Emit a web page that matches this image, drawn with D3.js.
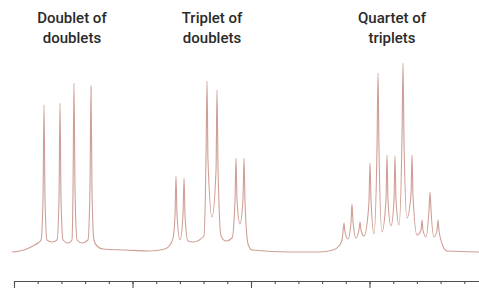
<!DOCTYPE html>
<html>
<head>
<meta charset="utf-8">
<script src="https://cdn.jsdelivr.net/npm/d3@7"></script>
<style>
  html, body { margin: 0; padding: 0; background: #fff; }
  svg { display: block; }
</style>
</head>
<body>
<svg id="chart" width="479" height="289"></svg>
<script>
// splitting patterns (shift in major-tick units, intensity arbitrary)
const traceShift = [
  -0.017, 0.084, 0.160, 0.203, 0.228,
  0.245, 0.253, 0.262, 0.278, 0.321, 0.363, 0.380, 0.388, 0.397, 0.414,
  0.456, 0.489, 0.498, 0.506, 0.515, 0.532, 0.574, 0.624, 0.641, 0.650, 0.658, 0.675,
  0.700, 0.751, 0.937, 1.148,
  1.274, 1.316, 1.342, 1.359, 1.367, 1.376, 1.401, 1.426, 1.435, 1.443, 1.468, 1.511,
  1.603, 1.620, 1.629, 1.637, 1.671, 1.705, 1.713, 1.722, 1.747, 1.789,
  1.840, 1.865, 1.873, 1.882, 1.907, 1.932, 1.941, 1.949, 1.975, 2.008, 2.329, 2.582,
  2.692, 2.743, 2.768, 2.776, 2.785, 2.793, 2.819, 2.844, 2.852, 2.861, 2.886,
  2.911, 2.920, 2.928, 2.954, 2.987, 2.996, 3.004, 3.013, 3.038,
  3.063, 3.072, 3.080, 3.105, 3.139, 3.148, 3.156, 3.181, 3.207, 3.215, 3.224, 3.249,
  3.274, 3.283, 3.291, 3.316, 3.350, 3.359, 3.367, 3.401,
  3.435, 3.443, 3.451, 3.477, 3.502, 3.511, 3.519, 3.544, 3.570, 3.578, 3.586,
  3.620, 3.654, 3.924
]
const traceIntensity = [
  0, 2, 6, 9, 12,
  52, 147, 52, 12, 10, 12, 52, 149, 52, 12,
  9, 12, 62, 169, 62, 12, 9, 12, 62, 166, 62, 12,
  6, 3, 2, 1,
  3, 7, 14, 37, 76, 37, 12, 37, 74, 37, 11, 10,
  16, 92, 171, 92, 35, 82, 162, 82, 16, 11,
  14, 52, 94, 52, 28, 52, 94, 52, 8, 2, 0, 0,
  2, 6, 12, 20, 29, 20, 13, 30, 48, 30, 14,
  22, 30, 22, 16, 37, 52, 89, 52, 18,
  102, 179, 102, 20, 52, 97, 52, 26, 52, 96, 52, 27,
  112, 189, 112, 34, 57, 97, 57, 17,
  22, 32, 22, 15, 42, 60, 42, 15, 22, 32, 22,
  6, 1, 0
]

const labelLines = [
  ['Doublet of', 'doublets'],
  ['Triplet of', 'doublets'],
  ['Quartet of', 'triplets']
]
const labelShift = [0.489, 1.671, 3.19]

const minorTicks = d3.range(0, 3.95, 0.2)
const majorTicks = [0, 1, 2, 3]

const svg = d3.select('#chart')

const x = d3.scaleLinear()
  .domain([0, 465 / 118.5])
  .range([14, 479])
const y = d3.scaleLinear()
  .domain([0, 190])
  .range([252, 62])

const points = traceShift.map((s, i) => [s, traceIntensity[i]])

const line = d3.line()
  .x(d => x(d[0]))
  .y(d => y(d[1]))
  .curve(d3.curveMonotoneX)

svg.append('path')
  .datum(points)
  .attr('fill', 'none')
  .attr('stroke', '#cf9f95')
  .attr('stroke-width', 1.1)
  .attr('stroke-linejoin', 'round')
  .attr('d', line)

// axis: minor and major ticks, no labels
const axisY = 281
const minorAxis = svg.append('g')
  .attr('transform', 'translate(0,' + axisY + ')')
  .call(d3.axisBottom(x).tickValues(minorTicks).tickSize(3).tickSizeOuter(0).tickFormat(''))
const majorAxis = svg.append('g')
  .attr('transform', 'translate(0,' + axisY + ')')
  .call(d3.axisBottom(x).tickValues(majorTicks).tickSize(7).tickSizeOuter(0).tickFormat(''))

svg.selectAll('.domain, .tick line')
  .attr('stroke', '#505050')
  .attr('stroke-width', 1.1)
majorAxis.select('.domain').remove()

const labels = svg.append('g')
  .attr('font-family', 'Roboto, "Liberation Sans", sans-serif')
  .attr('font-size', 15)
  .attr('font-weight', 500)
  .attr('fill', '#2a2a2a')
  .attr('text-anchor', 'middle')

labels.selectAll('text')
  .data(labelLines)
  .enter()
  .append('text')
  .attr('transform', (d, i) => 'translate(' + x(labelShift[i]) + ',0)')
  .selectAll('tspan')
  .data(d => d)
  .enter()
  .append('tspan')
  .attr('x', 0)
  .attr('y', (d, i) => 23 + i * 20)
  .text(d => d)
</script>
</body>
</html>
